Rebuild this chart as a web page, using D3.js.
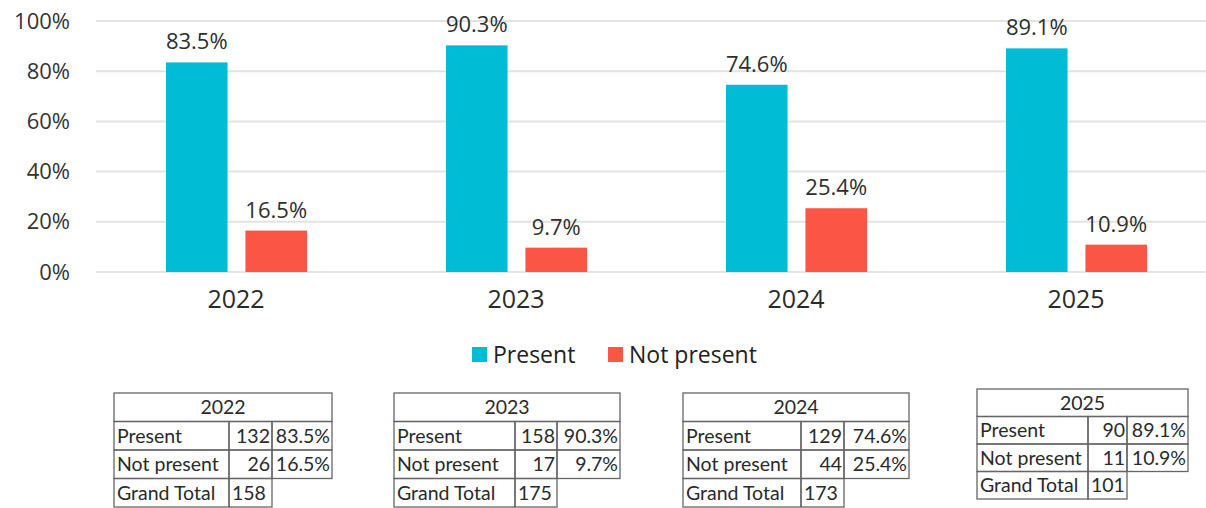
<!DOCTYPE html>
<html>
<head>
<meta charset="utf-8">
<script src="https://cdn.jsdelivr.net/npm/d3@7"></script>
<style>
  body { margin: 0; background: #fff; }
  svg { display: block; }
</style>
</head>
<body>
<script>
var years = ['2022', '2023', '2024', '2025'];
var seriesNames = ['Present', 'Not present'];
var presentPct = [0.835, 0.903, 0.746, 0.891];
var notPresentPct = [0.165, 0.097, 0.254, 0.109];
var presentCount = [132, 158, 129, 90];
var notPresentCount = [26, 17, 44, 11];
var grandTotal = [158, 175, 173, 101];
var yTicks = [0, 0.2, 0.4, 0.6, 0.8, 1];

var colors = {'Present': '#00bcd4', 'Not present': '#fb5545'};

var width = 1206;
var height = 508;

var svg = d3.select('body').append('svg')
  .attr('width', width)
  .attr('height', height)
  .style('font-family', '"Open Sans", sans-serif');

var x = d3.scaleBand().domain(years).range([96, 1216]).padding(0);
var xInner = d3.scaleBand().domain(seriesNames).range([70, 211]).paddingInner(0.225);
var y = d3.scaleLinear().domain([0, 1]).range([272, 21]);

// gridlines
svg.append('g')
  .selectAll('line')
  .data(yTicks)
  .enter().append('line')
    .attr('x1', 96)
    .attr('x2', width)
    .attr('y1', function(d) { return y(d); })
    .attr('y2', function(d) { return y(d); })
    .attr('stroke', '#e3e3e3')
    .attr('stroke-width', 2);

var yAxis = d3.axisLeft(y).tickValues(yTicks).tickFormat(d3.format('.0%')).tickSize(0).tickPadding(0);
var yG = svg.append('g').attr('transform', 'translate(70,0)').call(yAxis);
yG.select('.domain').remove();
yG.selectAll('text')
  .style('font-size', '22px')
  .style('font-family', '"Open Sans", sans-serif')
  .attr('fill', '#333');

var xAxis = d3.axisBottom(x).tickSize(0).tickPadding(0);
var xG = svg.append('g').attr('transform', 'translate(0,290)').call(xAxis);
xG.select('.domain').remove();
xG.selectAll('text')
  .style('font-size', '25px')
  .style('font-family', '"Open Sans", sans-serif')
  .attr('fill', '#2a2a2a');

var rows = years.map(function(yr, i) {
  return {year: yr, values: [
    {name: 'Present', v: presentPct[i]},
    {name: 'Not present', v: notPresentPct[i]}
  ]};
});

var groups = svg.append('g').selectAll('g')
  .data(rows)
  .enter().append('g')
    .attr('transform', function(d) { return 'translate(' + x(d.year) + ',0)'; });

groups.selectAll('rect')
  .data(function(d) { return d.values; })
  .enter().append('rect')
    .attr('x', function(d) { return xInner(d.name); })
    .attr('width', xInner.bandwidth())
    .attr('y', function(d) { return y(d.v); })
    .attr('height', function(d) { return y(0) - y(d.v); })
    .attr('fill', function(d) { return colors[d.name]; });

var pctFmt = d3.format('.1%');
groups.selectAll('text.val')
  .data(function(d) { return d.values; })
  .enter().append('text')
    .attr('class', 'val')
    .attr('x', function(d) { return xInner(d.name) + xInner.bandwidth() / 2; })
    .attr('y', function(d) { return y(d.v) - 13; })
    .attr('text-anchor', 'middle')
    .style('font-size', '22px')
    .attr('fill', '#2e2e2e')
    .text(function(d) { return pctFmt(d.v); });

// legend
var legend = svg.append('g').attr('transform', 'translate(0,355)');
var legendX = [472, 608];
seriesNames.forEach(function(name, i) {
  legend.append('rect')
    .attr('x', legendX[i])
    .attr('y', -8)
    .attr('width', 15)
    .attr('height', 15)
    .attr('fill', colors[name]);
  legend.append('text')
    .attr('x', legendX[i] + 21)
    .attr('y', 8)
    .style('font-size', '23px')
    .attr('fill', '#222')
    .text(name);
});

// summary tables
var tableBoxes = [
  {left: 114, top: 393, cols: [115, 43, 60], rowH: 28.5},
  {left: 394, top: 393, cols: [121, 42, 63], rowH: 28.5},
  {left: 683, top: 393, cols: [118, 43, 65], rowH: 28.5},
  {left: 977, top: 389, cols: [111, 39, 61], rowH: 27.5}
];

years.forEach(function(yr, i) {
  var b = tableBoxes[i];
  var g = svg.append('g')
    .attr('transform', 'translate(' + b.left + ',' + b.top + ')')
    .style('font-family', 'Lato, "Open Sans", sans-serif')
    .style('font-size', '19.5px')
    .attr('fill', '#2a2a2a');
  var c0 = b.cols[0], c1 = b.cols[1], c2 = b.cols[2];
  var full = c0 + c1 + c2;
  var h = b.rowH;
  var cells = [
    {x: 0, y: 0, w: full, t: yr, anchor: 'middle'},
    {x: 0, y: h, w: c0, t: 'Present', anchor: 'start'},
    {x: c0, y: h, w: c1, t: String(presentCount[i]), anchor: 'end'},
    {x: c0 + c1, y: h, w: c2, t: pctFmt(presentPct[i]), anchor: 'end'},
    {x: 0, y: 2 * h, w: c0, t: 'Not present', anchor: 'start'},
    {x: c0, y: 2 * h, w: c1, t: String(notPresentCount[i]), anchor: 'end'},
    {x: c0 + c1, y: 2 * h, w: c2, t: pctFmt(notPresentPct[i]), anchor: 'end'},
    {x: 0, y: 3 * h, w: c0, t: 'Grand Total', anchor: 'start'},
    {x: c0, y: 3 * h, w: c1, t: String(grandTotal[i]), anchor: 'start'}
  ];
  g.selectAll('rect')
    .data(cells)
    .enter().append('rect')
      .attr('x', function(d) { return d.x; })
      .attr('y', function(d) { return d.y; })
      .attr('width', function(d) { return d.w; })
      .attr('height', h)
      .attr('fill', 'none')
      .attr('stroke', '#666')
      .attr('stroke-width', 1.3);
  g.selectAll('text')
    .data(cells)
    .enter().append('text')
      .attr('x', function(d) {
        if (d.anchor === 'middle') return d.x + d.w / 2;
        if (d.anchor === 'end') return d.x + d.w - 2;
        return d.x + 3;
      })
      .attr('y', function(d) { return d.y + h / 2 + 7; })
      .attr('text-anchor', function(d) { return d.anchor; })
      .text(function(d) { return d.t; });
});
</script>
</body>
</html>
